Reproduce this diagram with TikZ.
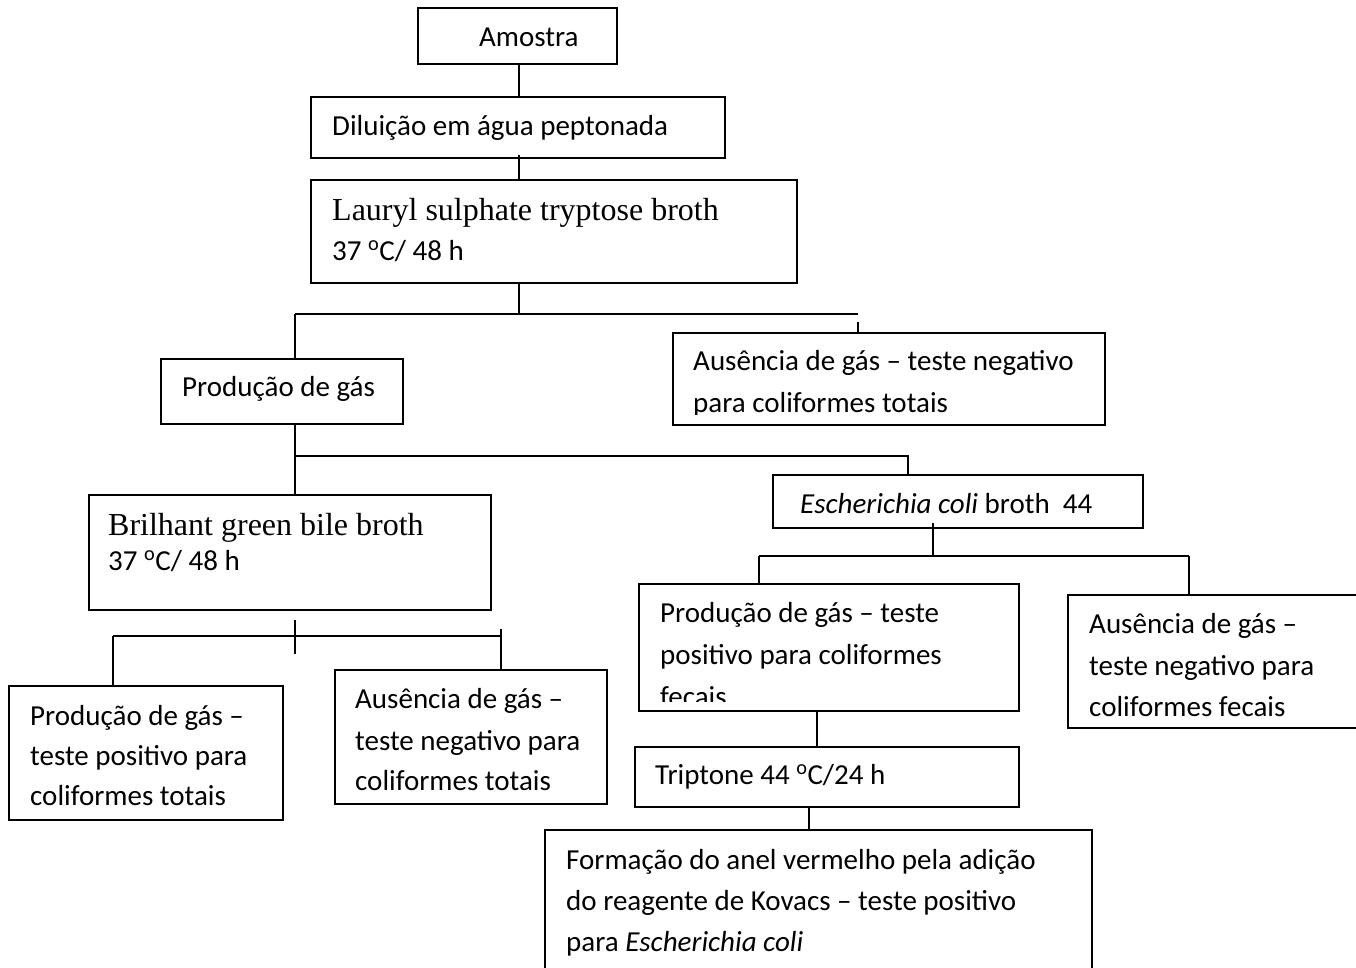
\documentclass[tikz,border=0pt]{standalone}
\usepackage{fontspec}
\setmainfont{Carlito}
\newfontfamily\tnr{Liberation Serif}
\begin{document}
\begin{tikzpicture}[x=1pt,y=-1pt,
  box/.style={draw,line width=1.8pt,inner sep=0pt,outer sep=0pt,anchor=north west},
  txt/.style={anchor=base west,inner sep=0pt,font=\fontsize{29}{41}\selectfont},
  stxt/.style={anchor=base west,inner sep=0pt,font=\fontsize{32}{40}\selectfont\tnr},
  con/.style={line width=1.8pt}]
\useasboundingbox (0,0) rectangle (1356,967);
\clip (0,0) rectangle (1356,967);
% boxes
\node[box,minimum width=199pt,minimum height=56pt] (amostra) at (418,8) {};
\node[box,minimum width=414pt,minimum height=61pt] (dil) at (311,97) {};
\node[box,minimum width=486pt,minimum height=103pt] (lauryl) at (311,180) {};
\node[box,minimum width=242pt,minimum height=65pt] (prod1) at (161,359) {};
\node[box,minimum width=432pt,minimum height=92pt] (ausT) at (673,333) {};
\node[box,minimum width=402pt,minimum height=115pt] (bril) at (89,495) {};
\node[box,minimum width=370pt,minimum height=53pt] (ecoli) at (773,475) {};
\node[box,minimum width=274pt,minimum height=134pt] (leftbox) at (9,686) {};
\node[box,minimum width=272pt,minimum height=134pt] (midbox) at (335,670) {};
\node[box,minimum width=380pt,minimum height=127pt] (fecP) at (639,584) {};
\node[box,minimum width=320pt,minimum height=133pt] (ausF) at (1068,595) {};
\node[box,minimum width=384pt,minimum height=60pt] (trip) at (635,747) {};
\node[box,minimum width=547pt,minimum height=170pt] (form) at (545,830) {};
% coordinates for connectors
\coordinate (x1) at (519,0);
\coordinate (b1L) at (295,314);
\coordinate (b1R) at (858,314);
\coordinate (b1Rs) at (858,322);
\coordinate (b2L) at (295,456);
\coordinate (b2R) at (908,456);
\coordinate (b3top) at (295,620);
\coordinate (b3bot) at (295,654);
\coordinate (b3L) at (113,636);
\coordinate (b3R) at (501,636);
\coordinate (b3Rt) at (501,629);
\coordinate (b4c) at (933,556);
\coordinate (b4L) at (759,556);
\coordinate (b4R) at (1189,556);
\coordinate (x5) at (817,0);
\coordinate (x6) at (809,0);
% connectors
\draw[con] (amostra.south -| x1) -- (dil.north -| x1);
\draw[con] ([yshift=3pt]dil.south -| x1) -- (lauryl.north -| x1);
\draw[con] (lauryl.south -| x1) -- (b1L -| x1);
\draw[con] (b1L) -- (b1R);
\draw[con] (b1L) -- (b1L |- prod1.north);
\draw[con] (b1Rs) -- (b1Rs |- ausT.north);
\draw[con] (prod1.south -| b2L) -- (b2L) -- (b2L |- bril.north);
\draw[con] (b2L) -- (b2R) -- (b2R |- ecoli.north);
\draw[con] (b3top) -- (b3bot);
\draw[con] (b3L) -- (b3R);
\draw[con] (b3Rt) -- (b3Rt |- midbox.north);
\draw[con] (b3L) -- (b3L |- leftbox.north);
\draw[con] ([yshift=5pt]ecoli.south -| b4c) -- (b4c);
\draw[con] (b4L) -- (b4R);
\draw[con] (b4L) -- (b4L |- fecP.north);
\draw[con] (b4R) -- (b4R |- ausF.north);
\draw[con] (fecP.south -| x5) -- (trip.north -| x5);
\draw[con] (trip.south -| x6) -- (form.north -| x6);
% texts
\node[txt] (tA) at (479,46) {Amostra};
\node[txt] (tD) at (332,135) {Diluição em água peptonada};
\node[stxt] (tL1) at (332,220) {Lauryl sulphate tryptose broth};
\node[txt] (tL2) at (332,260) {37 \textsuperscript{o}C/ 48 h};
\node[txt] (tP1) at (182,396) {Produção de gás};
\begin{scope}
\clip (673,333) rectangle (1105,414);
\node[txt] (tAT1) at (693,370) {Ausência de gás – teste negativo};
\node[txt] (tAT2) at (693,412) {para coliformes totais};
\end{scope}
\node[stxt] (tB1) at (108,535) {Brilhant green bile broth};
\node[txt] (tB2) at (108,570) {37 \textsuperscript{o}C/ 48 h};
\node[txt] (tE) at (800,513) {\textit{Escherichia coli} broth\ \ 44};
\node[txt] (tLB1) at (30,725) {Produção de gás –};
\node[txt] (tLB2) at (30,765) {teste positivo para};
\node[txt] (tLB3) at (30,805) {coliformes totais};
\node[txt] (tMB1) at (355,708) {Ausência de gás –};
\node[txt] (tMB2) at (355,750) {teste negativo para};
\node[txt] (tMB3) at (355,790) {coliformes totais};
\begin{scope}
\clip (639,584) rectangle (1019,701);
\node[txt] (tF1) at (660,622) {Produção de gás – teste};
\node[txt] (tF2) at (660,664) {positivo para coliformes};
\node[txt] (tF3) at (660,706) {fecais};
\end{scope}
\node[txt] (tAF1) at (1089,633) {Ausência de gás –};
\node[txt] (tAF2) at (1089,675) {teste negativo para};
\node[txt] (tAF3) at (1089,716) {coliformes fecais};
\node[txt] (tT) at (655,784) {Triptone 44 \textsuperscript{o}C/24 h};
\node[txt] (tK1) at (566,869) {Formação do anel vermelho pela adição};
\node[txt] (tK2) at (566,910) {do reagente de Kovacs – teste positivo};
\node[txt] (tK3) at (566,951) {para \textit{Escherichia coli}};
\end{tikzpicture}
\end{document}
